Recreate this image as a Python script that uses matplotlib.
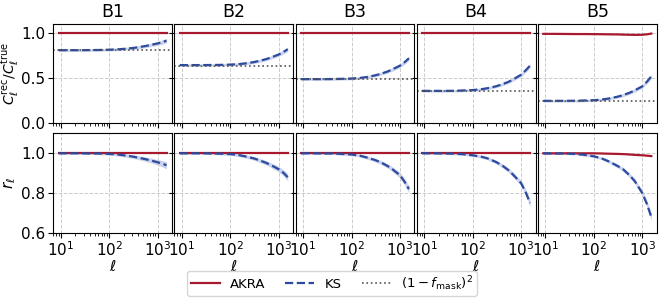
import numpy as np
import matplotlib
matplotlib.use('Agg')
import matplotlib.pyplot as plt

# multipoles
ell = [9, 15, 25, 40, 60, 100, 150, 200, 300, 400, 550, 700, 1000, 1250, 1536]

bins = ['B1', 'B2', 'B3', 'B4', 'B5']
mask_level = [0.81, 0.64, 0.49, 0.36, 0.25]

# C_l^rec / C_l^true
ks_ratio = {
    'B1': [0.810, 0.810, 0.810, 0.811, 0.812, 0.815, 0.819, 0.824, 0.833, 0.842, 0.855, 0.866, 0.884, 0.898, 0.915],
    'B2': [0.645, 0.645, 0.645, 0.646, 0.647, 0.650, 0.656, 0.663, 0.677, 0.692, 0.711, 0.730, 0.762, 0.790, 0.820],
    'B3': [0.490, 0.490, 0.490, 0.491, 0.493, 0.496, 0.503, 0.512, 0.530, 0.548, 0.573, 0.598, 0.638, 0.677, 0.720],
    'B4': [0.360, 0.360, 0.360, 0.361, 0.364, 0.369, 0.378, 0.389, 0.410, 0.431, 0.460, 0.490, 0.538, 0.588, 0.640],
    'B5': [0.250, 0.250, 0.250, 0.251, 0.253, 0.257, 0.265, 0.275, 0.294, 0.313, 0.340, 0.366, 0.410, 0.462, 0.520],
}
akra_ratio = {
    'B1': [1.0] * 15,
    'B2': [1.0] * 15,
    'B3': [1.0] * 15,
    'B4': [1.0] * 15,
    'B5': [0.990, 0.990, 0.989, 0.988, 0.988, 0.987, 0.986, 0.985, 0.984, 0.982, 0.980, 0.979, 0.980, 0.985, 0.993],
}

# correlation coefficient r_l
ks_r = {
    'B1': [1.000, 1.000, 1.000, 0.999, 0.999, 0.997, 0.994, 0.990, 0.984, 0.978, 0.971, 0.965, 0.955, 0.948, 0.940],
    'B2': [1.000, 1.000, 1.000, 0.999, 0.998, 0.996, 0.991, 0.985, 0.975, 0.965, 0.952, 0.940, 0.920, 0.902, 0.880],
    'B3': [1.000, 1.000, 0.999, 0.999, 0.997, 0.994, 0.988, 0.980, 0.967, 0.955, 0.937, 0.920, 0.890, 0.857, 0.820],
    'B4': [1.000, 1.000, 0.999, 0.998, 0.996, 0.990, 0.983, 0.975, 0.957, 0.940, 0.915, 0.890, 0.850, 0.803, 0.750],
    'B5': [1.000, 0.999, 0.999, 0.997, 0.993, 0.985, 0.973, 0.960, 0.938, 0.920, 0.889, 0.860, 0.800, 0.745, 0.680],
}
akra_r = {
    'B1': [1.0] * 15,
    'B2': [1.0] * 15,
    'B3': [1.0] * 15,
    'B4': [1.0] * 15,
    'B5': [1.000, 1.000, 1.000, 1.000, 1.000, 1.000, 0.999, 0.998, 0.997, 0.996, 0.994, 0.992, 0.990, 0.988, 0.986],
}

# scatter of the KS curves (half width of band)
ks_err_top = [0.014, 0.014, 0.014, 0.014, 0.014, 0.014, 0.015, 0.015, 0.016, 0.017, 0.018, 0.019, 0.021, 0.023, 0.025]
ks_err_bot = [0.005, 0.005, 0.005, 0.005, 0.006, 0.006, 0.007, 0.008, 0.009, 0.010, 0.011, 0.012, 0.014, 0.016, 0.018]

red = '#a8192e'
blue = '#2c4a9e'
band = '#a9b8e0'

fig, axes = plt.subplots(2, 5, figsize=(6.64, 2.99), dpi=100, sharex=True, sharey='row')
fig.subplots_adjust(left=0.080, right=0.989, top=0.920, bottom=0.221, wspace=0.02, hspace=0.10)

for i, b in enumerate(bins):
    ax = axes[0, i]
    ax.fill_between(ell, np.array(ks_ratio[b]) - ks_err_top, np.array(ks_ratio[b]) + ks_err_top,
                    color=band, alpha=0.6, lw=0)
    ax.plot(ell, akra_ratio[b], color=red, lw=1.6, label='AKRA')
    ax.plot(ell, ks_ratio[b], color=blue, lw=1.6, ls='--', label='KS')
    ax.axhline(mask_level[i], color='#555555', lw=1.2, ls=':', label=r'$(1-f_{\rm mask})^2$')
    ax.set_title(b, fontsize=12.5, pad=5)
    ax.set_ylim(0, 1.1)
    ax.set_yticks([0.0, 0.5, 1.0])
    ax.grid(True, ls='--', color='#cccccc', lw=0.7)

    ax = axes[1, i]
    ax.fill_between(ell, np.array(ks_r[b]) - ks_err_bot, np.array(ks_r[b]) + ks_err_bot,
                    color=band, alpha=0.6, lw=0)
    ax.plot(ell, akra_r[b], color=red, lw=1.6)
    ax.plot(ell, ks_r[b], color=blue, lw=1.6, ls='--')
    ax.set_ylim(0.6, 1.1)
    ax.set_yticks([0.6, 0.8, 1.0])
    ax.set_xscale('log')
    ax.set_xlabel(r'$\ell$', fontsize=11, labelpad=0)
    ax.grid(True, ls='--', color='#cccccc', lw=0.7)

for ax in axes.flat:
    ax.tick_params(labelsize=11, pad=2)

axes[0, 0].set_ylabel(r'$C_\ell^{\rm rec}/C_\ell^{\rm true}$', fontsize=10, labelpad=0)
axes[1, 0].set_ylabel(r'$r_\ell$', fontsize=11, labelpad=2)

h, l = axes[0, 0].get_legend_handles_labels()
fig.legend(h, l, loc='lower center', bbox_to_anchor=(0.5, -0.012), ncol=3, fontsize=9.5,
           handlelength=2.2, columnspacing=1.5, borderpad=0.25)

plt.savefig('out.png', dpi=100)
